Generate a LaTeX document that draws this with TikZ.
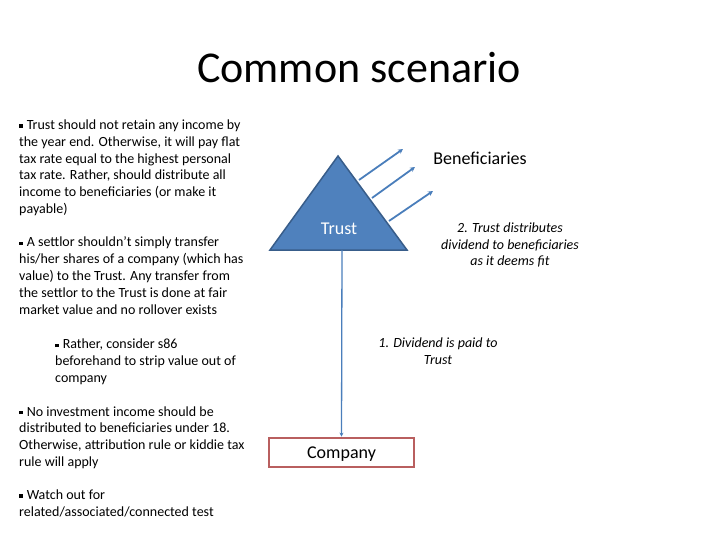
\documentclass[tikz,border=0pt]{standalone}
\usepackage{fontspec}
\setmainfont{Carlito}
\usetikzlibrary{arrows.meta}

\definecolor{trustblue}{RGB}{79,129,189}
\definecolor{trustedge}{RGB}{56,93,138}
\definecolor{linkblue}{RGB}{74,126,187}
\definecolor{boxred}{RGB}{185,95,95}

\newcommand{\bsq}{\raisebox{0.28ex}{\rule{0.24em}{0.24em}}\hspace{0.3em}}

\begin{document}
\begin{tikzpicture}[x=1pt,y=-1pt,
    note/.style={anchor=base west,align=left,inner sep=0pt,font=\fontsize{14}{16.8}\selectfont},
    remark/.style={align=center,inner sep=0pt,font=\fontsize{14}{16.6}\selectfont\itshape},
    label18/.style={font=\fontsize{18}{21}\selectfont},
    flow/.style={draw=linkblue,line width=1.8pt,-{Stealth[length=5pt,width=5pt]}}]
    \useasboundingbox (0,0) rectangle (720,540);

    \node[font=\fontsize{44}{52}\selectfont] (title) at (359,68) {Common scenario};

    % left column (anchored at the last line)
    \node[note] (tip1) at (19,213.5) {\bsq Trust should not retain any income by\\the year end. Otherwise, it will pay flat\\tax rate equal to the highest personal\\tax rate. Rather, should distribute all\\income to beneficiaries (or make it\\payable)};
    \node[note] (tip2) at (19,314) {\bsq A settlor shouldn't simply transfer\\his/her shares of a company (which has\\value) to the Trust. Any transfer from\\the settlor to the Trust is done at fair\\market value and no rollover exists};
    \node[note] (tip3) at (55,382.5) {\bsq Rather, consider s86\\beforehand to strip value out of\\company};
    \node[note] (tip4) at (19,466.5) {\bsq No investment income should be\\distributed to beneficiaries under 18.\\Otherwise, attribution rule or kiddie tax\\rule will apply};
    \node[note] (tip5) at (19,516.5) {\bsq Watch out for\\related/associated/connected test};

    % trust triangle
    \coordinate (apex) at (338,156);
    \coordinate (bl) at (270,250);
    \coordinate (br) at (407,250);
    \filldraw[fill=trustblue,draw=trustedge,line width=1.5pt] (apex) -- (br) -- (bl) -- cycle;
    \node[label18,text=white] (trust) at (339,229) {Trust};

    \node[label18] (benef) at (480,158) {Beneficiaries};

    \coordinate (out1) at (359,180);
    \coordinate (out2) at (372,198);
    \coordinate (out3) at (389,221);
    \draw[flow] (out1) -- ++(44,-31);
    \draw[flow] (out2) -- ++(43,-31);
    \draw[flow] (out3) -- ++(44,-30);

    \node[remark] (step2) at (510,245) {2. Trust distributes\\dividend to beneficiaries\\as it deems fit};

    \node[draw=boxred,line width=2.8pt,minimum width=145pt,minimum height=29pt,text depth=0pt,label18] (company) at (341.5,452.5) {Company};
    \coordinate (trunk) at (342,250);
    \draw[flow,line width=1.3pt,-{Stealth[length=4pt,width=4pt]}] (trunk) -- (company.north);

    \node[remark] (step1) at (438,351) {1. Dividend is paid to\\Trust};
\end{tikzpicture}
\end{document}
